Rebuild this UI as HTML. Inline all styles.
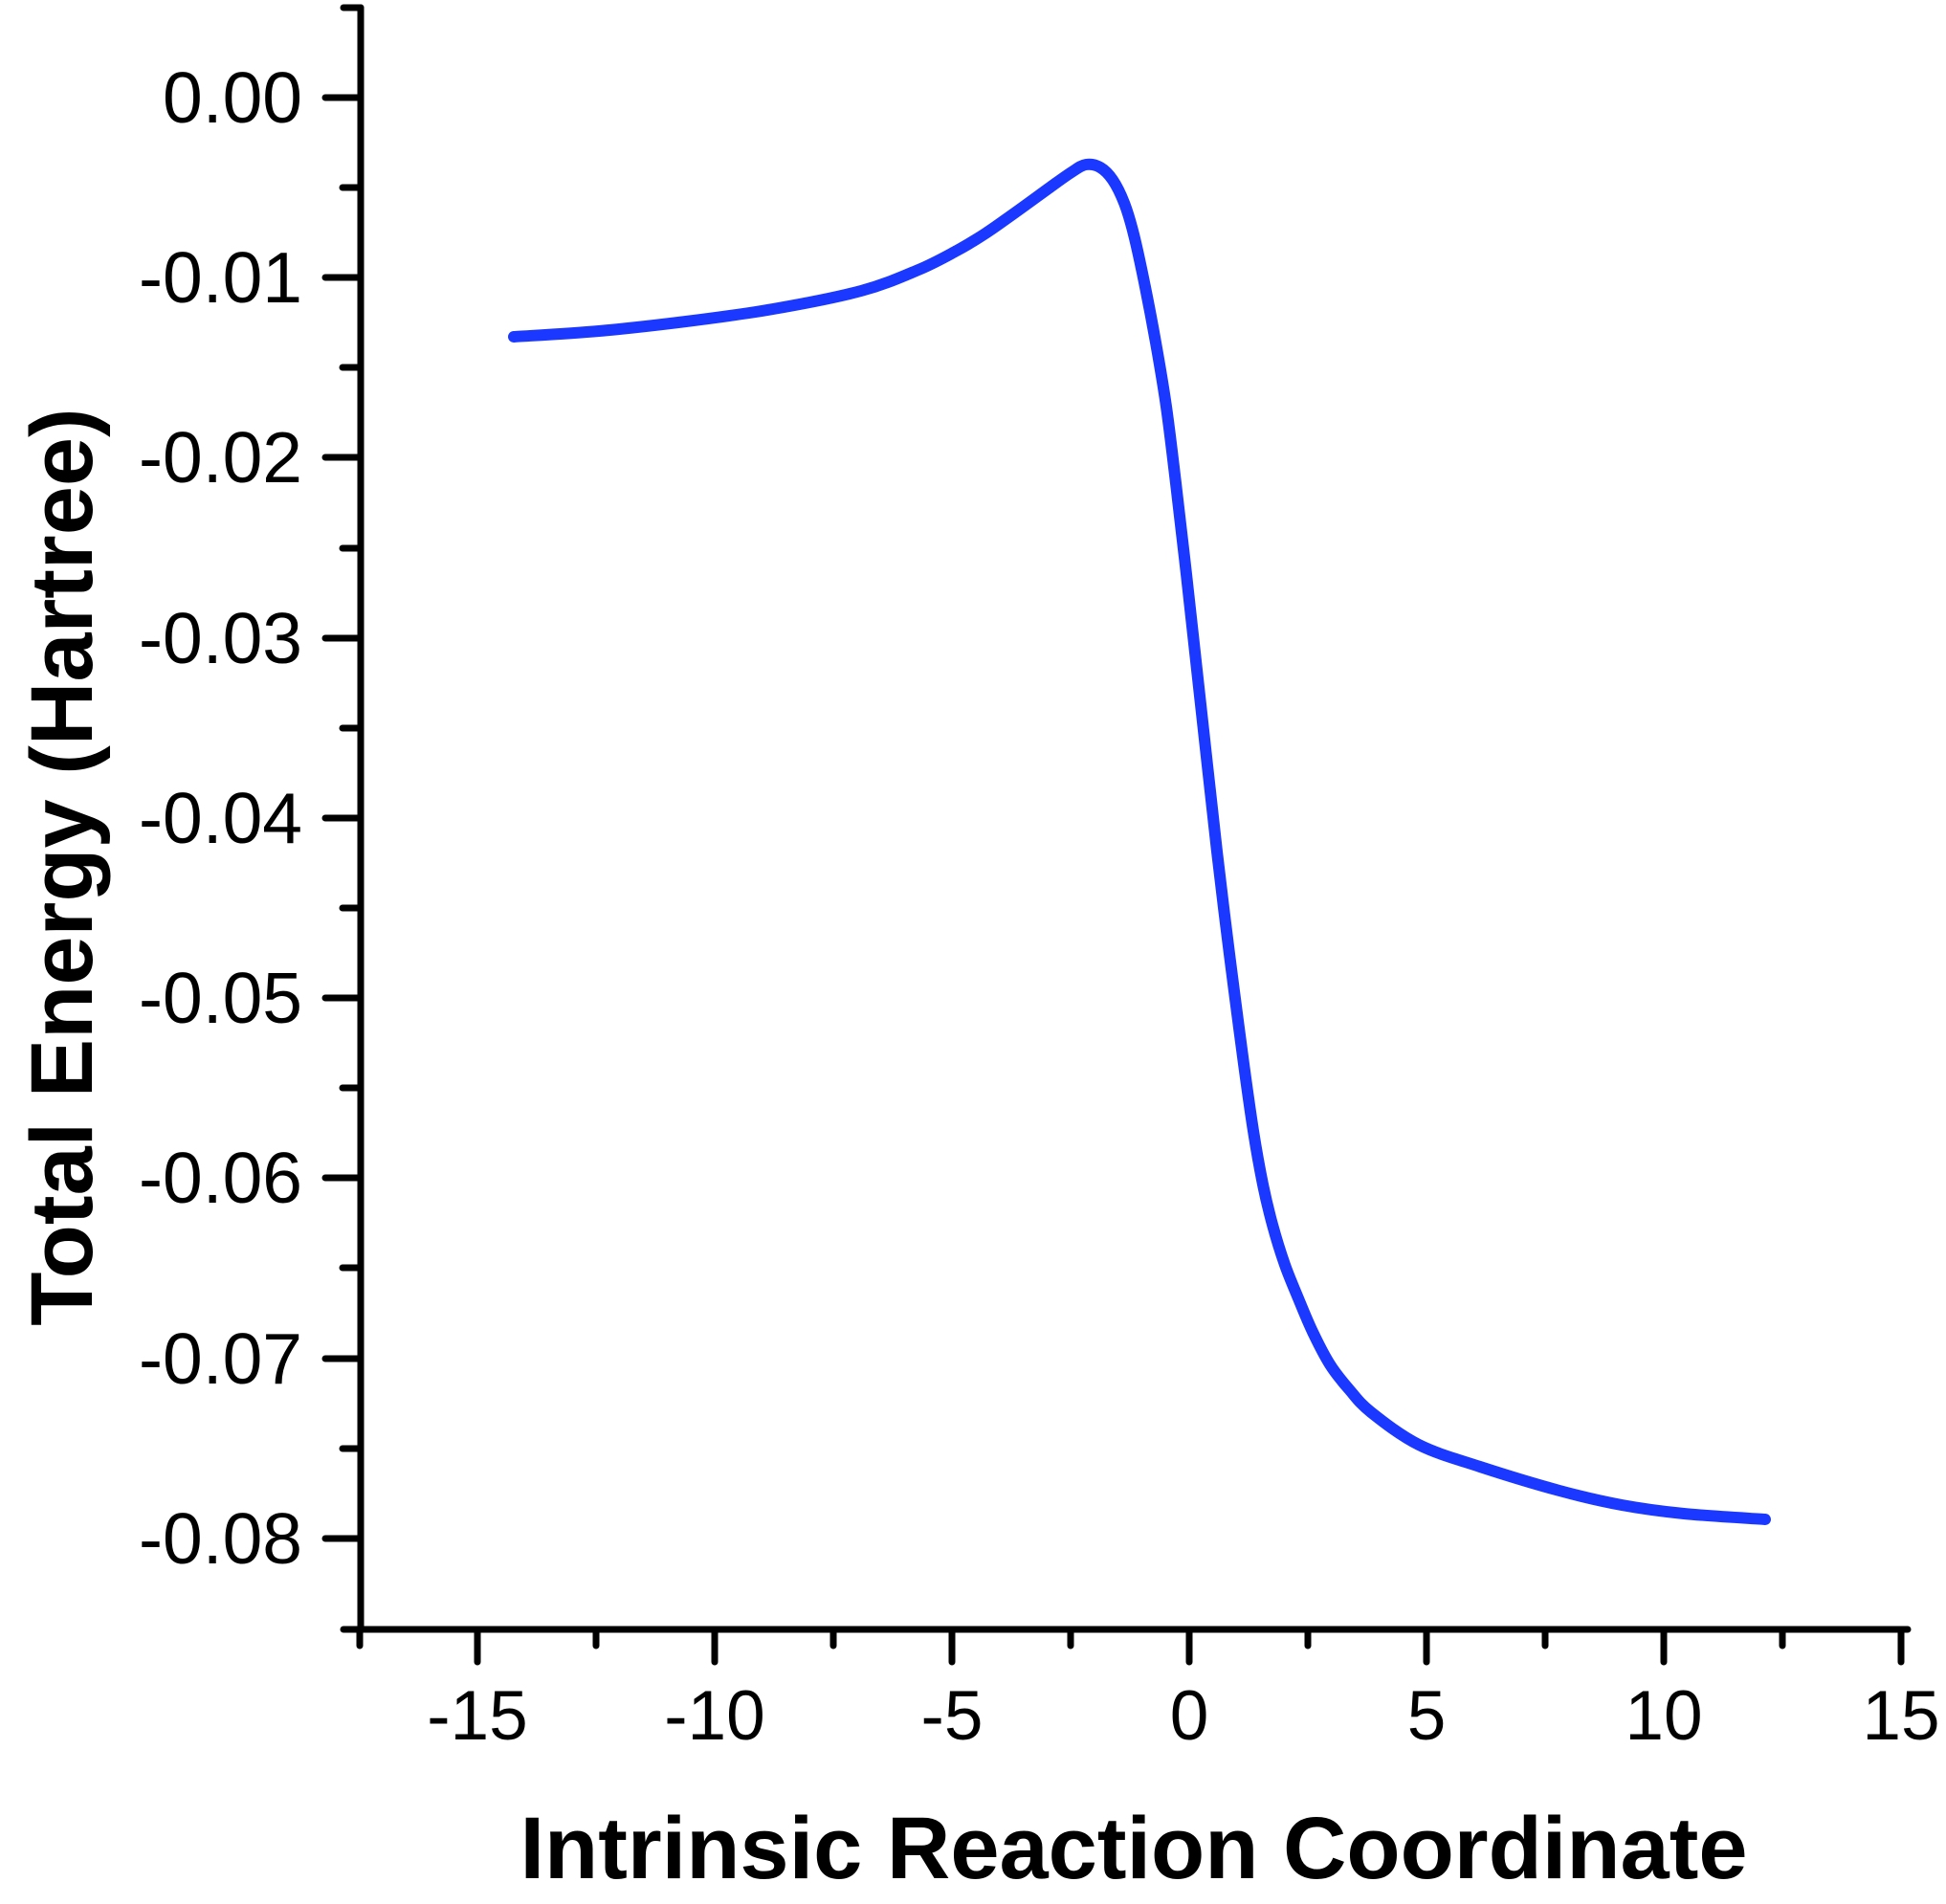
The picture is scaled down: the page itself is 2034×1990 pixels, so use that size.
<!DOCTYPE html>
<html><head><style>body{margin:0;background:#fff}</style></head><body>
<svg width="2034" height="1990" xmlns="http://www.w3.org/2000/svg" style="display:block">
<g stroke="#000" stroke-width="7" fill="none" stroke-linecap="round">
<line x1="377" y1="8" x2="377" y2="1703"/>
<line x1="359" y1="8" x2="377" y2="8"/>
<line x1="359" y1="1703" x2="1994" y2="1703"/>
<line x1="340" y1="102" x2="377" y2="102"/><line x1="340" y1="290" x2="377" y2="290"/><line x1="340" y1="478" x2="377" y2="478"/><line x1="340" y1="667" x2="377" y2="667"/><line x1="340" y1="855" x2="377" y2="855"/><line x1="340" y1="1043" x2="377" y2="1043"/><line x1="340" y1="1231" x2="377" y2="1231"/><line x1="340" y1="1420" x2="377" y2="1420"/><line x1="340" y1="1608" x2="377" y2="1608"/>
<line x1="358" y1="196" x2="377" y2="196"/><line x1="358" y1="384" x2="377" y2="384"/><line x1="358" y1="573" x2="377" y2="573"/><line x1="358" y1="761" x2="377" y2="761"/><line x1="358" y1="949" x2="377" y2="949"/><line x1="358" y1="1137" x2="377" y2="1137"/><line x1="358" y1="1325" x2="377" y2="1325"/><line x1="358" y1="1514" x2="377" y2="1514"/>
<line x1="499" y1="1703" x2="499" y2="1737"/><line x1="747" y1="1703" x2="747" y2="1737"/><line x1="995" y1="1703" x2="995" y2="1737"/><line x1="1243" y1="1703" x2="1243" y2="1737"/><line x1="1491" y1="1703" x2="1491" y2="1737"/><line x1="1739" y1="1703" x2="1739" y2="1737"/><line x1="1987" y1="1703" x2="1987" y2="1737"/>
<line x1="376" y1="1703" x2="376" y2="1720"/><line x1="623" y1="1703" x2="623" y2="1720"/><line x1="871" y1="1703" x2="871" y2="1720"/><line x1="1119" y1="1703" x2="1119" y2="1720"/><line x1="1367" y1="1703" x2="1367" y2="1720"/><line x1="1615" y1="1703" x2="1615" y2="1720"/><line x1="1863" y1="1703" x2="1863" y2="1720"/>
</g>
<g font-family="Liberation Sans, sans-serif" font-size="75" text-anchor="end" fill="#000">
<text x="316" y="128">0.00</text><text x="316" y="316">-0.01</text><text x="316" y="504">-0.02</text><text x="316" y="693">-0.03</text><text x="316" y="881">-0.04</text><text x="316" y="1069">-0.05</text><text x="316" y="1257">-0.06</text><text x="316" y="1446">-0.07</text><text x="316" y="1634">-0.08</text>
</g>
<g font-family="Liberation Sans, sans-serif" font-size="73" text-anchor="middle" fill="#000">
<text x="499" y="1818">-15</text><text x="747" y="1818">-10</text><text x="995" y="1818">-5</text><text x="1243" y="1818">0</text><text x="1491" y="1818">5</text><text x="1739" y="1818">10</text><text x="1987" y="1818">15</text>
</g>
<text x="1185" y="1963" font-family="Liberation Sans, sans-serif" font-weight="bold" font-size="92" text-anchor="middle">Intrinsic Reaction Coordinate</text>
<text transform="translate(96,906) rotate(-90)" font-family="Liberation Sans, sans-serif" font-weight="bold" font-size="92" text-anchor="middle">Total Energy (Hartree)</text>
<polyline id="c" fill="none" stroke="#1a38ff" stroke-width="12" stroke-linecap="round" stroke-linejoin="round"
points="537,352 626,346 717,336 808,323 900,304 960,282 1000,262 1030,244 1060,223 1100,194 1120,180 1135,172 1150,175 1163,188 1175,212 1185,245 1197,300 1208,358 1219,425 1229,505 1240,600 1251,700 1262,800 1272,890 1281,965 1290,1036 1300,1112 1310,1182 1320,1238 1330,1280 1343,1322 1357,1357 1372,1392 1390,1426 1410,1452 1433,1476 1483,1510 1547,1533 1630,1558 1695,1573 1760,1582 1845,1588"/>
<path id="s" fill="none" stroke="#1a38ff" stroke-width="12" stroke-linecap="round" stroke-linejoin="round" d=""/>
</svg>
<script>
(function(){var pl=document.getElementById('c');var p=pl.getAttribute('points').trim().split(/\s+/).map(function(s){return s.split(',').map(Number)});
var d='M'+p[0][0]+','+p[0][1];
for(var i=0;i<p.length-1;i++){var p0=p[i-1]||p[i],p1=p[i],p2=p[i+1],p3=p[i+2]||p2;
var c1=[p1[0]+(p2[0]-p0[0])/6,p1[1]+(p2[1]-p0[1])/6],c2=[p2[0]-(p3[0]-p1[0])/6,p2[1]-(p3[1]-p1[1])/6];
d+=' C'+c1[0].toFixed(1)+','+c1[1].toFixed(1)+' '+c2[0].toFixed(1)+','+c2[1].toFixed(1)+' '+p2[0]+','+p2[1];}
var s=document.getElementById('s');s.setAttribute('d',d);pl.style.display='none';})();
</script>
</body></html>
